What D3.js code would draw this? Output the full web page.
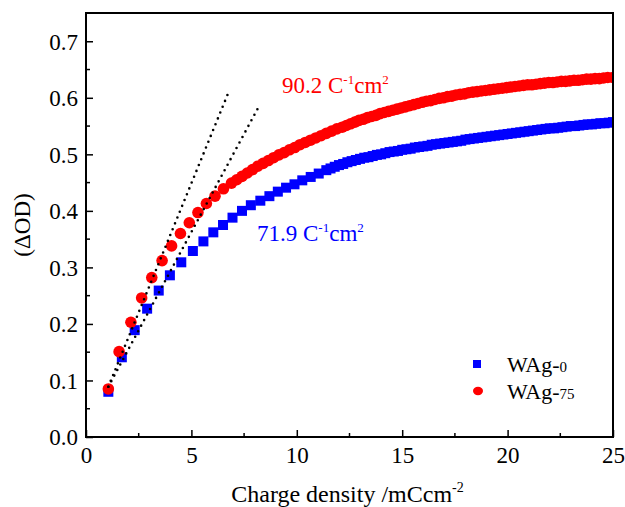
<!DOCTYPE html>
<html>
<head>
<meta charset="utf-8">
<script src="https://cdn.jsdelivr.net/npm/d3@7"></script>
<style>
  body { margin: 0; background: #fff; }
  svg { display: block; font-family: "Liberation Serif", "Times New Roman", serif; }
</style>
</head>
<body>
<div id="chart"></div>
<script>
// WAg-0 (blue squares)
const blueX = [1.06, 1.70, 2.31, 2.90, 3.45, 3.98, 4.52, 5.07, 5.57, 6.04, 6.50, 6.95, 7.40, 7.82, 8.27,
  8.70, 9.10, 9.49, 9.89, 10.26, 10.66, 11.04, 11.40, 11.60, 11.80, 12.00, 12.20, 12.40, 12.60, 12.80,
  13.00, 13.20, 13.40, 13.60, 13.80, 14.00, 14.20, 14.40, 14.60, 14.80, 15.00, 15.20, 15.40, 15.60,
  15.80, 16.00, 16.20, 16.40, 16.60, 16.80, 17.00, 17.20, 17.40, 17.60, 17.80, 18.00, 18.20, 18.40,
  18.60, 18.80, 19.00, 19.20, 19.40, 19.60, 19.80, 20.00, 20.20, 20.40, 20.60, 20.80, 21.00, 21.20,
  21.40, 21.60, 21.80, 22.00, 22.20, 22.40, 22.60, 22.80, 23.00, 23.20, 23.40, 23.60, 23.80, 24.00,
  24.20, 24.40, 24.60, 24.80, 25.00];
const blueY = [0.080, 0.141, 0.189, 0.227, 0.259, 0.286, 0.309, 0.329, 0.346, 0.362, 0.375, 0.388, 0.400, 0.410, 0.418,
  0.426, 0.434, 0.441, 0.447, 0.454, 0.460, 0.466, 0.472, 0.475, 0.478, 0.481, 0.483, 0.486, 0.488, 0.490,
  0.492, 0.494, 0.495, 0.497, 0.499, 0.500, 0.502, 0.504, 0.505, 0.506, 0.508, 0.509, 0.510, 0.512,
  0.513, 0.514, 0.515, 0.517, 0.518, 0.519, 0.520, 0.521, 0.522, 0.523, 0.524, 0.526, 0.527, 0.528,
  0.529, 0.530, 0.531, 0.532, 0.533, 0.534, 0.535, 0.536, 0.537, 0.538, 0.539, 0.540, 0.541, 0.542,
  0.543, 0.544, 0.545, 0.546, 0.546, 0.547, 0.548, 0.549, 0.550, 0.550, 0.551, 0.552, 0.553, 0.553,
  0.554, 0.555, 0.555, 0.556, 0.557];

// WAg-75 (red circles)
const redX = [1.06, 1.57, 2.13, 2.64, 3.12, 3.61, 4.06, 4.48, 4.90, 5.31, 5.71, 6.12, 6.52, 6.90, 7.15,
  7.40, 7.65, 7.90, 8.15, 8.40, 8.65, 8.90, 9.15, 9.40, 9.65, 9.90, 10.15, 10.40, 10.65, 10.90,
  11.15, 11.40, 11.65, 11.90, 12.15, 12.35, 12.55, 12.75, 12.95, 13.15, 13.35, 13.55, 13.75, 13.95,
  14.15, 14.35, 14.55, 14.75, 14.95, 15.15, 15.35, 15.55, 15.75, 15.95, 16.15, 16.35, 16.55, 16.75,
  16.95, 17.15, 17.35, 17.55, 17.75, 17.95, 18.15, 18.35, 18.55, 18.75, 18.95, 19.15, 19.35, 19.55,
  19.75, 19.95, 20.15, 20.35, 20.55, 20.75, 20.95, 21.15, 21.35, 21.55, 21.75, 21.95, 22.15, 22.35,
  22.55, 22.75, 22.95, 23.15, 23.35, 23.55, 23.75, 23.95, 24.15, 24.35, 24.55, 24.75, 25.00];
const redY = [0.085, 0.151, 0.203, 0.246, 0.282, 0.312, 0.338, 0.360, 0.379, 0.397, 0.413, 0.426, 0.439, 0.449, 0.455,
  0.461, 0.467, 0.473, 0.479, 0.484, 0.489, 0.494, 0.499, 0.503, 0.508, 0.512, 0.517, 0.521, 0.525, 0.529,
  0.533, 0.537, 0.541, 0.545, 0.548, 0.551, 0.554, 0.557, 0.560, 0.562, 0.565, 0.567, 0.569, 0.572,
  0.574, 0.576, 0.578, 0.580, 0.582, 0.584, 0.586, 0.588, 0.590, 0.592, 0.594, 0.595, 0.597, 0.599,
  0.600, 0.602, 0.603, 0.605, 0.606, 0.607, 0.609, 0.610, 0.611, 0.612, 0.613, 0.614, 0.615, 0.616,
  0.617, 0.618, 0.619, 0.620, 0.621, 0.622, 0.623, 0.623, 0.624, 0.625, 0.626, 0.627, 0.627, 0.628,
  0.629, 0.629, 0.630, 0.631, 0.631, 0.632, 0.633, 0.633, 0.634, 0.634, 0.635, 0.636, 0.636];

// linear fits at low charge density (dotted)
const fitRed = [[1.06, 0.089], [6.71, 0.605]];
const fitBlue = [[1.06, 0.089], [8.19, 0.584]];

const xTicks = [0, 5, 10, 15, 20, 25];
const yTicks = [0.0, 0.1, 0.2, 0.3, 0.4, 0.5, 0.6, 0.7];

const width = 625, height = 507;
const margin = {top: 13, right: 12, bottom: 70, left: 86};

const svg = d3.select("#chart").append("svg")
    .attr("width", width)
    .attr("height", height);

const x = d3.scaleLinear().domain([0, 25]).range([margin.left, width - margin.right]);
const y = d3.scaleLinear().domain([0, 0.75]).range([height - margin.bottom, margin.top]);

svg.append("clipPath").attr("id", "clip")
    .append("rect")
    .attr("x", margin.left).attr("y", margin.top)
    .attr("width", x(25) - x(0)).attr("height", y(0) - y(0.75));

const plot = svg.append("g").attr("clip-path", "url(#clip)");

const blue = blueX.map((v, i) => [v, blueY[i]]);
const red = redX.map((v, i) => [v, redY[i]]);

const sq = 10;
plot.append("g").selectAll("rect")
    .data(blue)
    .join("rect")
    .attr("x", d => x(d[0]) - sq / 2)
    .attr("y", d => y(d[1]) - sq / 2)
    .attr("width", sq)
    .attr("height", sq)
    .attr("fill", "#0000ff");

plot.append("g").selectAll("circle")
    .data(red)
    .join("circle")
    .attr("cx", d => x(d[0]))
    .attr("cy", d => y(d[1]))
    .attr("r", 5.8)
    .attr("fill", "#ff0000");

const line = d3.line().x(d => x(d[0])).y(d => y(d[1]));
[fitRed, fitBlue].forEach(f => {
    plot.append("path")
        .attr("d", line(f))
        .attr("fill", "none")
        .attr("stroke", "#000")
        .attr("stroke-width", 2.6)
        .attr("stroke-linecap", "round")
        .attr("stroke-dasharray", "0 6.3");
});

// axes, ticks pointing inward
const gx = svg.append("g").attr("transform", `translate(0,${y(0)})`)
    .call(d3.axisBottom(x).tickValues(xTicks).tickFormat(d3.format("d")).tickSizeInner(-7).tickSizeOuter(0));
gx.append("g").selectAll("line")
    .data(d3.range(2.5, 25, 5))
    .join("line")
    .attr("x1", d => x(d)).attr("x2", d => x(d))
    .attr("y1", 0).attr("y2", -4)
    .attr("stroke", "#000").attr("stroke-width", 1.5);

const gy = svg.append("g").attr("transform", `translate(${x(0)},0)`)
    .call(d3.axisLeft(y).tickValues(yTicks).tickFormat(d3.format(".1f")).tickSizeInner(-7).tickSizeOuter(0));
gy.append("g").selectAll("line")
    .data(d3.range(0.05, 0.75, 0.1))
    .join("line")
    .attr("y1", d => y(d)).attr("y2", d => y(d))
    .attr("x1", 0).attr("x2", 4)
    .attr("stroke", "#000").attr("stroke-width", 1.5);

[gx, gy].forEach(g => {
    g.select(".domain").remove();
    g.selectAll(".tick line").attr("stroke-width", 1.5);
    g.selectAll("text").attr("font-family", "Liberation Serif").attr("font-size", 23).attr("fill", "#000");
});
gx.selectAll(".tick text").attr("y", 10).attr("dy", "0.71em");
gy.selectAll(".tick text").attr("x", -8).attr("dy", "0.34em");

svg.append("rect")
    .attr("x", x(0)).attr("y", y(0.75))
    .attr("width", x(25) - x(0)).attr("height", y(0) - y(0.75))
    .attr("fill", "none")
    .attr("stroke", "#000")
    .attr("stroke-width", 2);

// axis titles
svg.append("text")
    .attr("x", (x(0) + x(25)) / 2 - 2)
    .attr("y", 502)
    .attr("text-anchor", "middle")
    .attr("font-size", 24)
    .text("Charge density /mCcm")
    .append("tspan")
    .attr("dy", -10)
    .attr("font-size", 14)
    .text("-2");

svg.append("text")
    .attr("transform", `translate(30,${(y(0) + y(0.75)) / 2}) rotate(-90)`)
    .attr("text-anchor", "middle")
    .attr("font-size", 23)
    .text("(ΔOD)");

// slope annotations
function annotate(px, py, num, color) {
    const t = svg.append("text")
        .attr("x", px).attr("y", py)
        .attr("font-size", 23)
        .attr("fill", color);
    t.append("tspan").text(num + " C");
    t.append("tspan").attr("dy", -9).attr("font-size", 13).text("-1");
    t.append("tspan").attr("dy", 9).text("cm");
    t.append("tspan").attr("dy", -9).attr("font-size", 13).text("2");
}
annotate(282, 93, "90.2", "#ff0000");
annotate(257, 241, "71.9", "#0000ff");

// legend
const legend = svg.append("g");
legend.append("rect")
    .attr("x", 473).attr("y", 360).attr("width", 8).attr("height", 8)
    .attr("fill", "#0000ff");
legend.append("ellipse")
    .attr("cx", 478).attr("cy", 391).attr("rx", 5).attr("ry", 4.2)
    .attr("fill", "#ff0000");
const l1 = legend.append("text").attr("x", 507).attr("y", 372).attr("font-size", 22);
l1.append("tspan").text("WAg-");
l1.append("tspan").attr("font-size", 15).text("0");
const l2 = legend.append("text").attr("x", 507).attr("y", 399).attr("font-size", 22);
l2.append("tspan").text("WAg-");
l2.append("tspan").attr("font-size", 15).text("75");
</script>
</body>
</html>
